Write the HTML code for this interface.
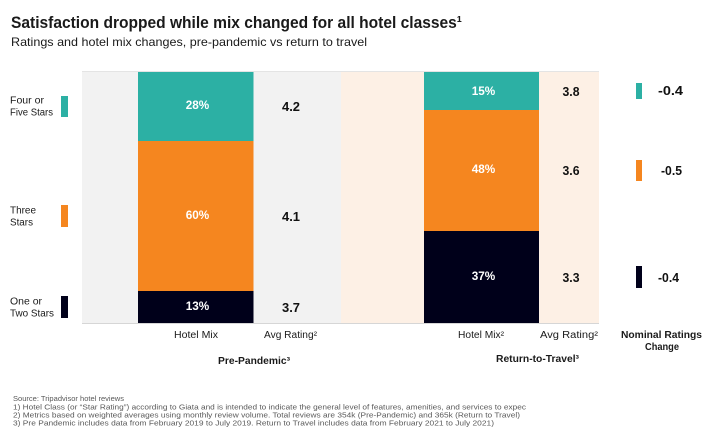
<!DOCTYPE html>
<html>
<head>
<meta charset="utf-8">
<style>
  html, body { margin: 0; padding: 0; background: #ffffff; }
  svg { display: block; }
  text { font-family: "Liberation Sans", "DejaVu Sans", sans-serif; }
</style>
</head>
<body>
<svg width="721" height="436" viewBox="0 0 721 436" xmlns="http://www.w3.org/2000/svg">
  <rect x="0" y="0" width="721" height="436" fill="#ffffff"/>

  <!-- Title -->
  <text x="11" y="28" font-size="16.5" font-weight="bold" fill="#1a1a1a" textLength="451" lengthAdjust="spacingAndGlyphs">Satisfaction dropped while mix changed for all hotel classes¹</text>
  <text x="11" y="46" font-size="12" fill="#1a1a1a" textLength="356" lengthAdjust="spacingAndGlyphs">Ratings and hotel mix changes, pre-pandemic vs return to travel</text>

  <!-- Panels -->
  <rect x="82" y="71" width="259" height="252" fill="#f2f2f2"/>
  <rect x="341" y="71" width="258" height="252" fill="#fdf0e5"/>
  <line x1="82" y1="71.5" x2="599" y2="71.5" stroke="#e4e4e4" stroke-width="1"/>
  <line x1="82" y1="323.5" x2="599" y2="323.5" stroke="#d6d6d6" stroke-width="1"/>

  <!-- Left bar (Pre-Pandemic) -->
  <rect x="138" y="72" width="115.5" height="69" fill="#2cb0a4"/>
  <rect x="138" y="141" width="115.5" height="150" fill="#f5861f"/>
  <rect x="138" y="291" width="115.5" height="32" fill="#00001a"/>

  <!-- Right bar (Return-to-Travel) -->
  <rect x="424" y="72" width="115" height="38" fill="#2cb0a4"/>
  <rect x="424" y="110" width="115" height="121" fill="#f5861f"/>
  <rect x="424" y="231" width="115" height="92" fill="#00001a"/>

  <!-- Bar labels -->
  <g font-size="12" font-weight="bold" fill="#ffffff" text-anchor="middle">
    <text x="197.5" y="109" textLength="23.5" lengthAdjust="spacingAndGlyphs">28%</text>
    <text x="197.5" y="219" textLength="23.5" lengthAdjust="spacingAndGlyphs">60%</text>
    <text x="197.5" y="310" textLength="23.5" lengthAdjust="spacingAndGlyphs">13%</text>
    <text x="483.5" y="95" textLength="23.5" lengthAdjust="spacingAndGlyphs">15%</text>
    <text x="483.5" y="173" textLength="23.5" lengthAdjust="spacingAndGlyphs">48%</text>
    <text x="483.5" y="280" textLength="23.5" lengthAdjust="spacingAndGlyphs">37%</text>
  </g>

  <!-- Ratings -->
  <g font-size="12.5" font-weight="bold" fill="#111111" text-anchor="middle">
    <text x="291" y="111" textLength="18" lengthAdjust="spacingAndGlyphs">4.2</text>
    <text x="291" y="221" textLength="18" lengthAdjust="spacingAndGlyphs">4.1</text>
    <text x="291" y="312" textLength="18" lengthAdjust="spacingAndGlyphs">3.7</text>
    <text x="571" y="96" textLength="17" lengthAdjust="spacingAndGlyphs">3.8</text>
    <text x="571" y="175" textLength="17" lengthAdjust="spacingAndGlyphs">3.6</text>
    <text x="571" y="282" textLength="17" lengthAdjust="spacingAndGlyphs">3.3</text>
  </g>

  <!-- Left legend -->
  <g font-size="9.8" fill="#1a1a1a">
    <text x="10" y="103.5" textLength="34" lengthAdjust="spacingAndGlyphs">Four or</text>
    <text x="10" y="115.5" textLength="43" lengthAdjust="spacingAndGlyphs">Five Stars</text>
    <text x="10" y="213.5" textLength="26" lengthAdjust="spacingAndGlyphs">Three</text>
    <text x="10" y="225.5" textLength="23" lengthAdjust="spacingAndGlyphs">Stars</text>
    <text x="10" y="304.5" textLength="32" lengthAdjust="spacingAndGlyphs">One or</text>
    <text x="10" y="316.5" textLength="44" lengthAdjust="spacingAndGlyphs">Two Stars</text>
  </g>
  <rect x="61" y="96" width="7" height="21" fill="#2cb0a4"/>
  <rect x="61" y="205" width="7" height="22" fill="#f5861f"/>
  <rect x="61" y="296" width="7" height="22" fill="#00001a"/>

  <!-- Right change markers -->
  <rect x="636" y="83" width="6" height="16" fill="#2cb0a4"/>
  <rect x="636" y="160" width="6" height="21" fill="#f5861f"/>
  <rect x="636" y="266" width="6" height="22" fill="#00001a"/>
  <g font-size="12.5" font-weight="bold" fill="#111111">
    <text x="658" y="95" textLength="25" lengthAdjust="spacingAndGlyphs">-0.4</text>
    <text x="661" y="175" textLength="21" lengthAdjust="spacingAndGlyphs">-0.5</text>
    <text x="658" y="282" textLength="21" lengthAdjust="spacingAndGlyphs">-0.4</text>
  </g>

  <!-- Axis labels -->
  <g font-size="9.8" fill="#1a1a1a">
    <text x="174" y="338" textLength="44" lengthAdjust="spacingAndGlyphs">Hotel Mix</text>
    <text x="264" y="338" textLength="53" lengthAdjust="spacingAndGlyphs">Avg Rating²</text>
    <text x="458" y="338" textLength="46" lengthAdjust="spacingAndGlyphs">Hotel Mix²</text>
    <text x="540" y="338" textLength="58" lengthAdjust="spacingAndGlyphs">Avg Rating²</text>
  </g>
  <g font-size="9.8" font-weight="bold" fill="#1a1a1a">
    <text x="621" y="338" textLength="81" lengthAdjust="spacingAndGlyphs">Nominal Ratings</text>
    <text x="645" y="350" textLength="34" lengthAdjust="spacingAndGlyphs">Change</text>
    <text x="218" y="364" textLength="72" lengthAdjust="spacingAndGlyphs">Pre-Pandemic³</text>
    <text x="496" y="362" textLength="83" lengthAdjust="spacingAndGlyphs">Return-to-Travel³</text>
  </g>

  <!-- Footnotes -->
  <g font-size="7.6" fill="#595959">
    <text x="13" y="401" textLength="111" lengthAdjust="spacingAndGlyphs">Source: Tripadvisor hotel reviews</text>
    <text x="13" y="409.5" textLength="513" lengthAdjust="spacingAndGlyphs">1) Hotel Class (or “Star Rating”) according to Giata and is intended to indicate the general level of features, amenities, and services to expec</text>
    <text x="13" y="417.5" textLength="507" lengthAdjust="spacingAndGlyphs">2) Metrics based on weighted averages using monthly review volume. Total reviews are 354k (Pre-Pandemic) and 365k (Return to Travel)</text>
    <text x="13" y="425.5" textLength="481" lengthAdjust="spacingAndGlyphs">3) Pre Pandemic includes data from February 2019 to July 2019. Return to Travel includes data from February 2021 to July 2021)</text>
  </g>
</svg>
</body>
</html>
